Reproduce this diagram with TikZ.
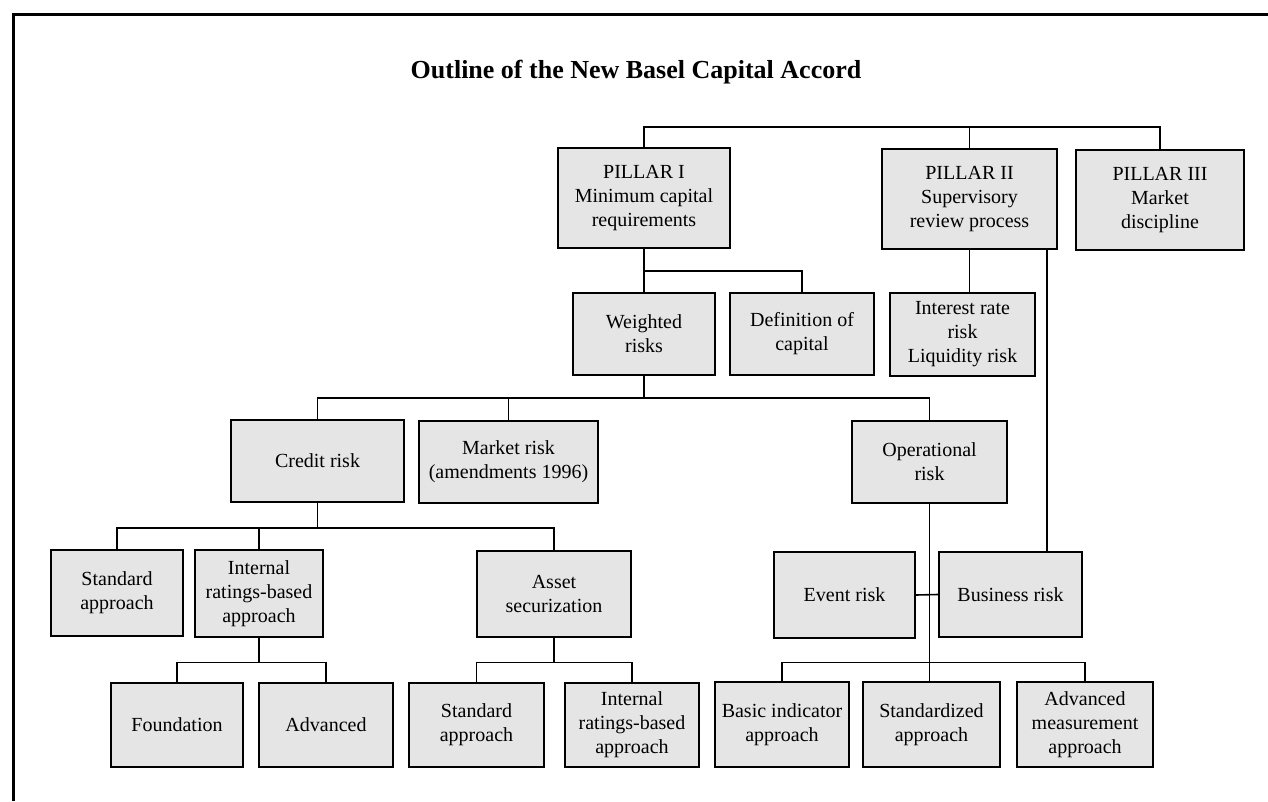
\documentclass[tikz,border=0pt]{standalone}
\usepackage{fontspec}
\setmainfont{Liberation Serif}
\usetikzlibrary{calc}
\tikzset{
  box/.style={draw=black, line width=1.8pt, fill=black!10, align=center, inner sep=0pt,
    font=\fontsize{20}{24}\selectfont},
  conn/.style={draw=black, line width=1.6pt, line cap=rect},
  frame/.style={draw=black, line width=3pt}
}
\newcommand\bx[6]{\node[box, minimum width={(#4-#2)*1pt}, minimum height={(#5-#3)*1pt}] (#1) at ({(#2+#4)/2},{(#3+#5)/2}) {#6};}
\begin{document}
\begin{tikzpicture}[x=1pt,y=-1pt]
\useasboundingbox (0,0) rectangle (1268,801);
\draw[frame] (13,801) -- (13,14) -- (1268,14);
\node[font=\bfseries\fontsize{26}{30}\selectfont] (title) at (636,72) {Outline of the New Basel Capital Accord};
% buses
\coordinate (bus0) at (0,127);
\coordinate (bus1) at (0,271);
\coordinate (bus2) at (0,398);
\coordinate (bus3) at (0,528);
\coordinate (bus4) at (0,662.5);
% pillars
\bx{p1}{558}{148}{730}{248}{PILLAR I\\Minimum capital\\requirements}
\bx{p2}{882}{149}{1057}{249}{PILLAR II\\Supervisory\\review process}
\bx{p3}{1076}{150}{1244}{250}{PILLAR III\\Market\\discipline}
% second row
\bx{wr}{573}{293}{715}{375}{Weighted\\risks}
\bx{dc}{730}{293}{874}{375}{Definition of\\capital}
\bx{ir}{890}{293}{1035}{376}{Interest rate\\risk\\Liquidity risk}
% third row
\bx{cr}{231}{420}{404}{502}{Credit risk}
\bx{mr}{419}{421}{598}{503}{Market risk\\(amendments 1996)}
\bx{op}{852}{421}{1007}{503}{Operational\\risk}
% fourth row
\bx{sa}{51}{550}{183}{636}{Standard\\approach}
\bx{irb}{195}{550}{323}{637}{Internal\\ratings-based\\approach}
\bx{as}{477}{551}{631}{637}{Asset\\securization}
\bx{ev}{774}{552}{915}{638}{Event risk}
\bx{bu}{939}{552}{1082}{637}{Business risk}
% bottom row
\bx{fo}{111}{683}{243}{767}{Foundation}
\bx{ad}{259}{683}{393}{767}{Advanced}
\bx{sa2}{409}{683}{544}{767}{Standard\\approach}
\bx{irb2}{565}{683}{699}{767}{Internal\\ratings-based\\approach}
\bx{bi}{715}{682}{849}{767}{Basic indicator\\approach}
\bx{sz}{863}{682}{1000}{767}{Standardized\\approach}
\bx{am}{1017}{682}{1153}{767}{Advanced\\measurement\\approach}
% connectors
\draw[conn] (p1.north) -- (p1.north|-bus0) -- (p3.north|-bus0) -- (p3.north);
\draw[conn] (p2.north) -- (p2.north|-bus0);
\draw[conn] (p1.south) -- (p1.south|-bus1);
\draw[conn] (wr.north) -- (wr.north|-bus1) -- (dc.north|-bus1) -- (dc.north);
\draw[conn] (p2.south) -- (p2.south|-ir.north);
\coordinate (p2r) at ($(p2.south east)+(-11,0)$);
\draw[conn] (p2r) -- (p2r|-bu.north);
\draw[conn] (wr.south) -- (wr.south|-bus2);
\draw[conn] (cr.north) -- (cr.north|-bus2) -- (op.north|-bus2) -- (op.north);
\draw[conn] (mr.north) -- (mr.north|-bus2);
\draw[conn] (cr.south) -- (cr.south|-bus3);
\draw[conn] (sa.north) -- (sa.north|-bus3) -- (as.north|-bus3) -- (as.north);
\draw[conn] (irb.north) -- (irb.north|-bus3);
\draw[conn] (irb.south) -- (irb.south|-bus4);
\draw[conn] (fo.north) -- (fo.north|-bus4) -- (ad.north|-bus4) -- (ad.north);
\draw[conn] (as.south) -- (as.south|-bus4);
\draw[conn] (sa2.north) -- (sa2.north|-bus4) -- (irb2.north|-bus4) -- (irb2.north);
\draw[conn] (op.south) -- (op.south|-sz.north);
\draw[conn] (ev.east) -- (bu.west);
\draw[conn] (bi.north) -- (bi.north|-bus4) -- (am.north|-bus4) -- (am.north);
\end{tikzpicture}
\end{document}
